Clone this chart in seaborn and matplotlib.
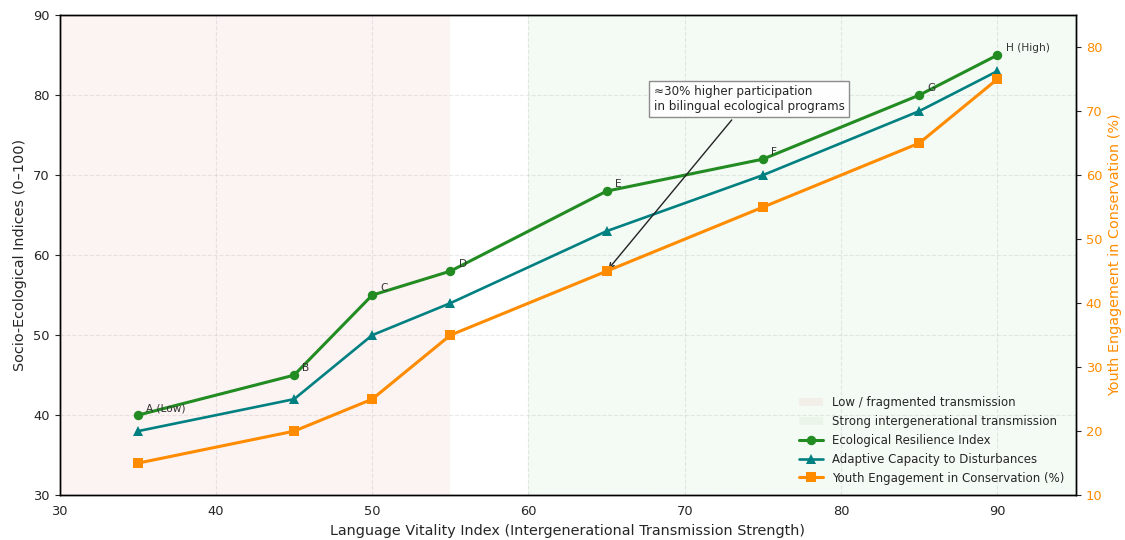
import matplotlib
matplotlib.use("Agg")
import matplotlib.pyplot as plt
import numpy as np
import pandas as pd
import seaborn as sns

# data
vitality = [35, 45, 50, 55, 65, 75, 85, 90]
point_labels = ["A (Low)", "B", "C", "D", "E", "F", "G", "H (High)"]
resilience = [40, 45, 55, 58, 68, 72, 80, 85]
adaptive = [38, 42, 50, 54, 63, 70, 78, 83]
youth = [15, 20, 25, 35, 45, 55, 65, 75]

df = pd.DataFrame({"vitality": vitality, "resilience": resilience,
                   "adaptive": adaptive, "youth": youth})

sns.set_style("white")
plt.rcParams['font.family'] = ['DejaVu Sans']

fig, ax = plt.subplots(figsize=(11.25, 5.4), dpi=100)
fig.subplots_adjust(left=0.053, right=0.956, top=0.972, bottom=0.083)

# background zones
ax.axvspan(30, 55, color="tab:red", alpha=0.055, lw=0, label="Low / fragmented transmission")
ax.axvspan(60, 95, color="tab:green", alpha=0.05, lw=0, label="Strong intergenerational transmission")

sns.lineplot(data=df, x="vitality", y="resilience", ax=ax, color="#228B22", lw=2.2,
             marker="o", markersize=6.8, markeredgewidth=0, label="Ecological Resilience Index")
sns.lineplot(data=df, x="vitality", y="adaptive", ax=ax, color="#008080", lw=1.9,
             marker="^", markersize=6.8, markeredgewidth=0, label="Adaptive Capacity to Disturbances")

for x, y, t in zip(vitality, resilience, point_labels):
    ax.annotate(t, (x, y), xytext=(6, 3), textcoords="offset points",
                fontsize=7.6, color="#333333")

ax.set_xlim(30, 95)
ax.set_ylim(30, 90)
ax.set_xlabel("Language Vitality Index (Intergenerational Transmission Strength)", fontsize=10.4)
ax.set_ylabel("Socio-Ecological Indices (0–100)", fontsize=10.4)
ax.grid(True, linestyle="--", alpha=0.4)
ax.tick_params(axis="both", direction="out", length=3.8, labelsize=9.4)

ax2 = ax.twinx()
sns.lineplot(data=df, x="vitality", y="youth", ax=ax2, color="#FF8C00", lw=2.2,
             marker="s", markersize=6.8, markeredgewidth=0, label="Youth Engagement in Conservation (%)")
ax2.set_ylim(10, 85)
ax2.set_ylabel("Youth Engagement in Conservation (%)", color="#FF8C00", fontsize=10.4)
ax2.tick_params(axis="y", labelcolor="#FF8C00", direction="out", length=3.8, labelsize=9.4)
for a in (ax, ax2):
    for s in a.spines.values():
        s.set_color("black")
        s.set_linewidth(1)

ax.annotate("≈30% higher participation\nin bilingual ecological programs",
            xy=(65, 58), xytext=(68, 79.5), ha="left", va="center", fontsize=8.6,
            bbox=dict(boxstyle="square,pad=0.35", fc="white", ec="gray", alpha=0.9),
            arrowprops=dict(arrowstyle="->", color="#222222", lw=1))

h1, l1 = ax.get_legend_handles_labels()
h2, l2 = ax2.get_legend_handles_labels()
ax.get_legend().remove()
ax2.get_legend().remove()
ax2.legend(h1 + h2, l1 + l2, loc="lower right", fontsize=8.5, frameon=False)

fig.savefig("out.png", dpi=100)
